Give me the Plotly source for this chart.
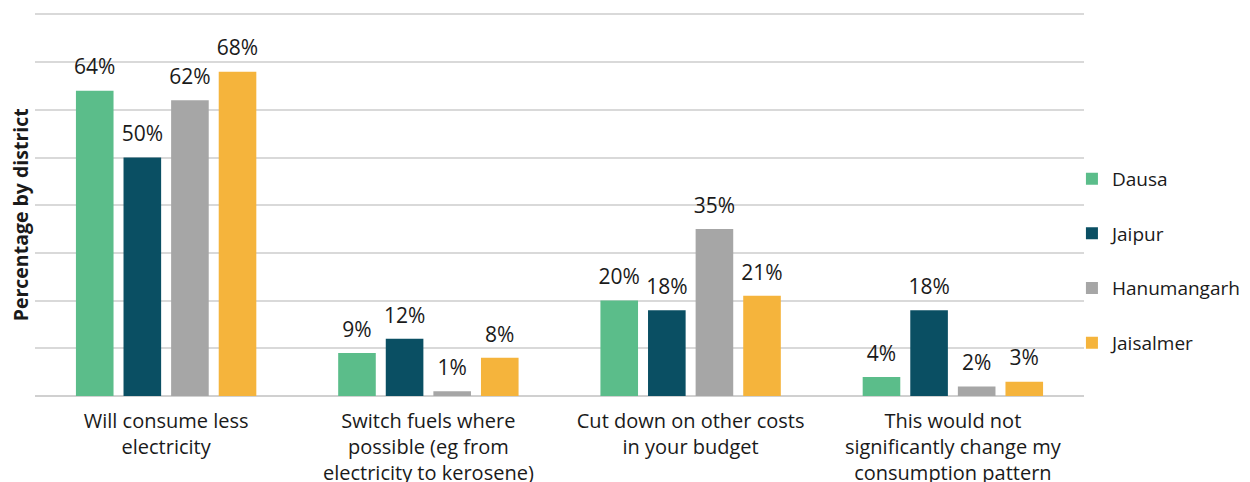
import plotly.graph_objects as go

categories = [
    "Will consume less<br>electricity",
    "Switch fuels where<br>possible (eg from<br>electricity to kerosene)",
    "Cut down on other costs<br>in your budget",
    "This would not<br>significantly change my<br>consumption pattern",
]
series_names = ["Dausa", "Jaipur", "Hanumangarh", "Jaisalmer"]
dausa = [64, 9, 20, 4]
jaipur = [50, 12, 18, 18]
hanumangarh = [62, 1, 35, 2]
jaisalmer = [68, 8, 21, 3]
colors = ["#5bbd8a", "#0a4f63", "#a6a6a6", "#f5b43c"]

FONT = "Open Sans, sans-serif"
fig = go.Figure()
for name, vals, col in zip(series_names, [dausa, jaipur, hanumangarh, jaisalmer], colors):
    fig.add_trace(go.Bar(
        name=name, x=categories, y=vals, marker_color=col, marker_line_width=0,
        legendgroup=name, offsetgroup=name, hoverinfo="skip",
    ))
for name, vals in zip(series_names, [dausa, jaipur, hanumangarh, jaisalmer]):
    fig.add_trace(go.Scatter(
        x=categories, y=vals, mode="markers+text", offsetgroup=name,
        marker=dict(size=16, opacity=0), text=[f"{v}%" for v in vals],
        textposition="top center", textfont=dict(size=21, color="#1a1a1a", family=FONT),
        showlegend=False, cliponaxis=False, hoverinfo="skip",
    ))

# page body has an 8px margin, so the figure is sized/positioned to compensate
fig.update_layout(
    width=1242, height=474,
    margin=dict(l=27, r=161, t=5, b=86),
    paper_bgcolor="white", plot_bgcolor="white",
    font=dict(family=FONT, size=20, color="#1a1a1a"),
    barmode="group", bargap=0.274, bargroupgap=0.21,
    scattermode="group", scattergap=0.274,
    showlegend=True,
    legend=dict(x=0.9885, y=0.353, xanchor="left", yanchor="middle",
                font=dict(size=19), tracegroupgap=27, itemwidth=30,
                borderwidth=0, bgcolor="rgba(0,0,0,0)"),
    xaxis=dict(showgrid=False, showline=False, ticks="", tickfont=dict(size=20),
               automargin=False, ticklabelstandoff=11),
    yaxis=dict(range=[0, 80.3], dtick=10, showticklabels=False, gridcolor="#d9d9d9",
               gridwidth=1.5, zeroline=True, zerolinecolor="#d0d0d0", zerolinewidth=1.5,
               automargin=False),
    annotations=[dict(text="<b>Percentage by district</b>", textangle=-90,
                      xref="paper", yref="paper", x=-0.0135, y=0.474,
                      xanchor="center", yanchor="middle", showarrow=False,
                      font=dict(size=19.5, family=FONT, color="#1a1a1a"))],
)

fig.write_html("out.html")
